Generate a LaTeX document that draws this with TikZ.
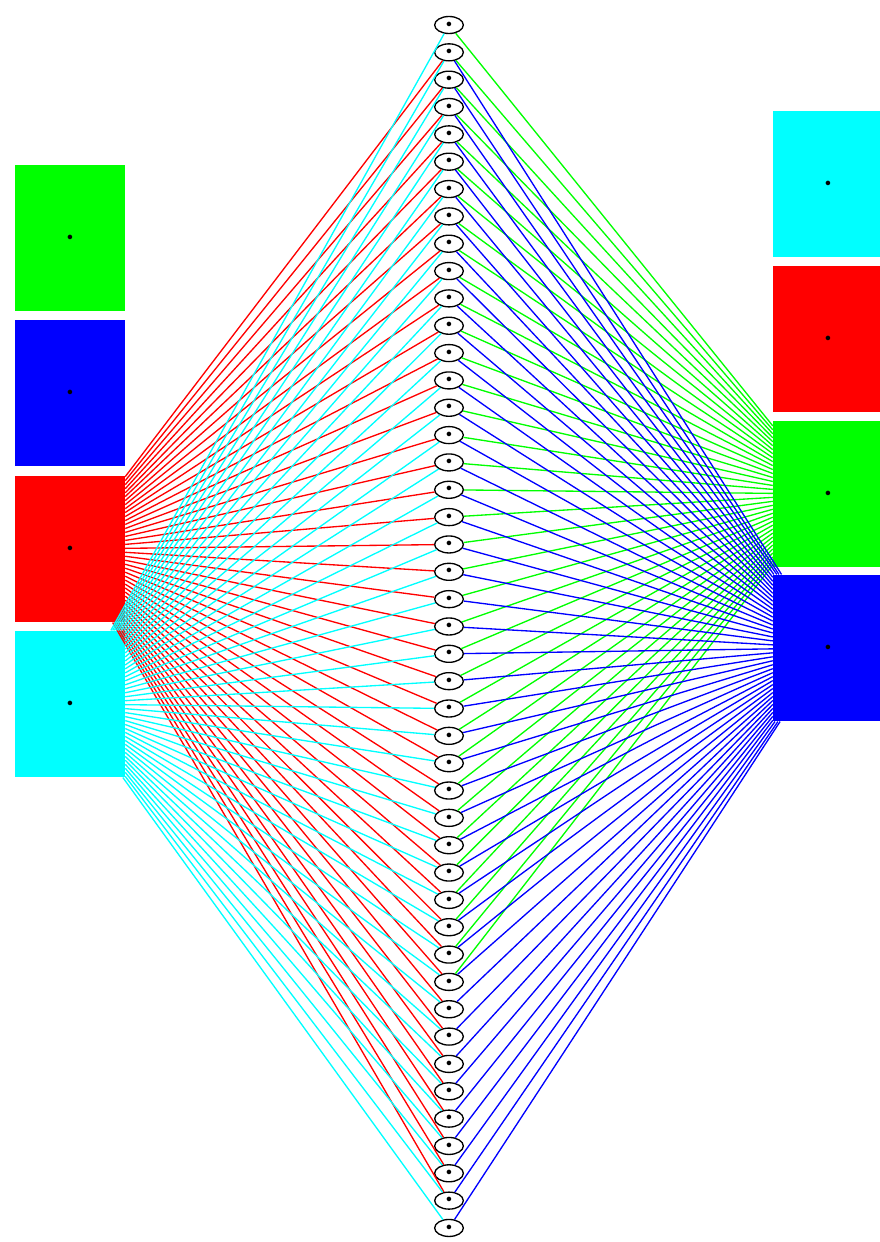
\documentclass[tikz,border=0pt]{standalone}
\usetikzlibrary{shapes.geometric}
\definecolor{aqua}{RGB}{0,255,255}
\definecolor{lime}{RGB}{0,255,0}
\begin{document}
\begin{tikzpicture}[x=0.3mm, y=-0.3mm,
  box/.style={rectangle, inner sep=0pt, minimum width=33mm,
              minimum height=44mm, fill=#1, font=\Large},
  item/.style={ellipse, draw, line width=0.4mm, inner sep=0pt,
               minimum width=8.6mm, minimum height=5.1mm, font=\Large},
  link/.style={draw=#1, line width=0.4mm}
]
  \useasboundingbox (0,0) rectangle (880,1242);
  % left column
  \node[box=lime]  (lgreen) at (70,238) {\textbullet};
  \node[box=blue]  (lblue)  at (70,393) {\textbullet};
  \node[box=red]   (lred)   at (70,549) {\textbullet};
  \node[box=aqua]  (lcyan)  at (70,704) {\textbullet};
  % right column
  \node[box=aqua]  (rcyan)  at (828,184) {\textbullet};
  \node[box=red]   (rred)   at (828,339) {\textbullet};
  \node[box=lime]  (rgreen) at (828,494) {\textbullet};
  \node[box=blue]  (rblue)  at (828,648) {\textbullet};
  % middle column
  \foreach \i in {1,...,45}
    \node[item] (m\i) at (449,{25+27.34*(\i-1)}) {\textbullet};
  % links
  \foreach \i in {2,...,44}
    \draw[link=red] (lred) -- (m\i);
  \foreach \i in {1,...,45}
    \draw[link=aqua] (lcyan) -- (m\i);
  \foreach \i in {1,...,36}
    \draw[link=lime] (m\i) -- (rgreen);
  \foreach \i in {2,...,45}
    \draw[link=blue] (m\i) -- (rblue);
\end{tikzpicture}
\end{document}
